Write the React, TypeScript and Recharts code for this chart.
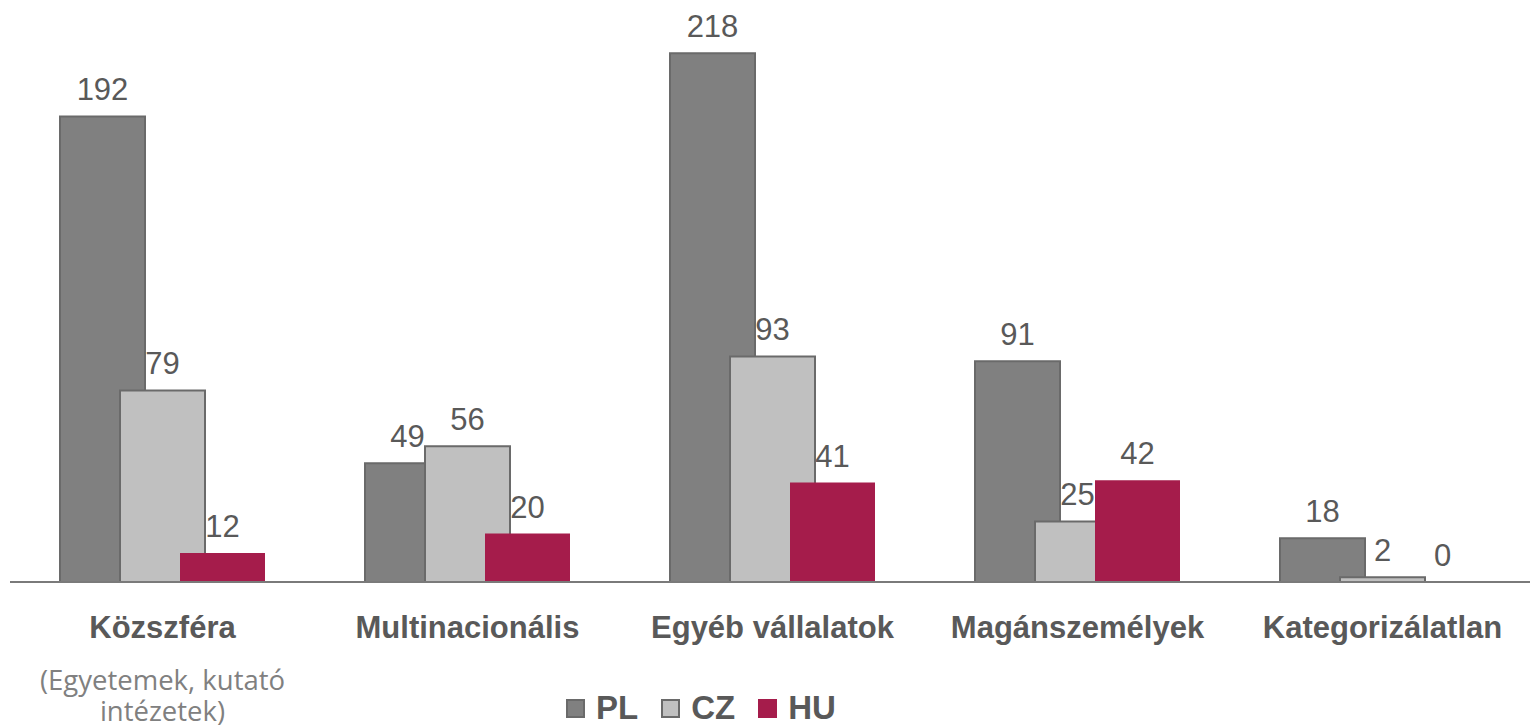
import { BarChart, Bar, XAxis, YAxis, LabelList, Legend } from "recharts";

const CATEGORIES = ["Közszféra", "Multinacionális", "Egyéb vállalatok", "Magánszemélyek", "Kategorizálatlan"];
const SUBTITLES: string[][] = [["(Egyetemek, kutató", "intézetek)"], [], [], [], []];
const PL = [192, 49, 218, 91, 18];
const CZ = [79, 56, 93, 25, 2];
const HU = [12, 20, 41, 42, 0];

const TEXT = "#595959";
const SUB_TEXT = "#808080";
const AXIS = "#7a7a7a";
const FONT = "'Liberation Sans', Arial, sans-serif";

const SERIES = [
  { key: "PL", values: PL, fill: "#808080", stroke: "#6a6a6a" },
  { key: "CZ", values: CZ, fill: "#c0c0c0", stroke: "#6a6a6a" },
  { key: "HU", values: HU, fill: "#a51c4b", stroke: "none" },
];

const data = CATEGORIES.map((name, i) => {
  const row: Record<string, string | number> = { name };
  SERIES.forEach((s) => (row[s.key] = s.values[i]));
  return row;
});

const CategoryTick = (props: any) => {
  const { x, y, payload, index } = props;
  const sub = SUBTITLES[index] || [];
  return (
    <g>
      <text x={x} y={y + 56} textAnchor="middle" fill={TEXT} fontFamily={FONT} fontWeight="bold" fontSize={31}>
        {payload.value}
      </text>
      {sub.map((line, i) => (
        <text
          key={i}
          x={x}
          y={y + 108 + i * 31}
          textAnchor="middle"
          fill={SUB_TEXT}
          fontFamily="'Open Sans', sans-serif"
          fontSize={27.5}
        >
          {line}
        </text>
      ))}
    </g>
  );
};

const LegendContent = () => (
  <div
    style={{
      display: "flex",
      alignItems: "center",
      boxSizing: "border-box",
      height: 45,
      paddingTop: 9,
      paddingLeft: 556,
      fontFamily: FONT,
      fontWeight: "bold",
      fontSize: 33,
      color: TEXT,
      gap: 23,
    }}
  >
    {SERIES.map((s) => (
      <div key={s.key} style={{ display: "flex", alignItems: "center", gap: 11 }}>
        <div
          style={{
            width: 19,
            height: 19,
            boxSizing: "border-box",
            background: s.fill,
            border: s.stroke === "none" ? "none" : `2px solid ${s.stroke}`,
          }}
        />
        <span>{s.key}</span>
      </div>
    ))}
  </div>
);

export default function App() {
  return (
    <div style={{ width: 1530, height: 726, background: "#fff", overflow: "hidden" }}>
      <style>{"body{margin:0}"}</style>
      <BarChart
        width={1540}
        height={726}
        data={data}
        margin={{ top: 0, right: 5, left: 10, bottom: 0 }}
        barSize={85}
        barGap={-25}
      >
        <YAxis hide domain={[0, 240]} />
        <XAxis
          dataKey="name"
          height={99}
          tickLine={false}
          tickSize={0}
          tickMargin={0}
          axisLine={{ stroke: AXIS, strokeWidth: 2 }}
          tick={<CategoryTick />}
          interval={0}
        />
        <Legend verticalAlign="bottom" height={45} content={<LegendContent />} />
        {SERIES.map((s) => (
          <Bar
            key={s.key}
            dataKey={s.key}
            fill={s.fill}
            stroke={s.stroke}
            strokeWidth={2}
            minPointSize={0.01}
            isAnimationActive={false}
          >
            <LabelList
              dataKey={s.key}
              position="top"
              offset={16}
              fill={TEXT}
              fontSize={31}
              fontFamily={FONT}
              formatter={(v: any) => String(v)}
            />
          </Bar>
        ))}
      </BarChart>
    </div>
  );
}
